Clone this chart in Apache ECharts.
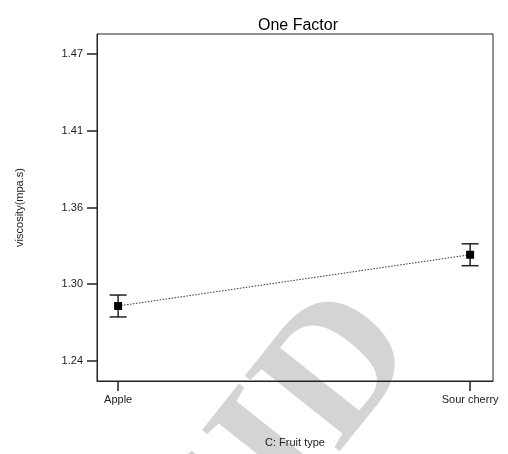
<!DOCTYPE html>
<html>
<head>
<meta charset="utf-8">
<script src="https://cdn.jsdelivr.net/npm/echarts@6/dist/echarts.min.js"></script>
<style>html,body{margin:0;padding:0;background:#fff}#c{width:508px;height:454px}</style>
</head>
<body>
<div id="c"></div>
<script>
var categories = ['Apple', 'Sour cherry'];
var means = [1.2812, 1.3196];
var lower = [1.2730, 1.3114];
var upper = [1.2894, 1.3278];
var yTicks = [1.24, 1.2975, 1.355, 1.4125, 1.47];

var chart = echarts.init(document.getElementById('c'));
var font = 'Liberation Sans, Arial, sans-serif';
var lineData = means.map(function (v, i) { return [i, v]; });
var errData = means.map(function (v, i) { return [i, lower[i], upper[i]]; });

chart.setOption({
  animation: false,
  backgroundColor: '#fff',
  title: {
    text: 'One Factor', left: 293, top: 13, textAlign: 'center',
    textStyle: { fontFamily: font, fontSize: 16, fontWeight: 'normal', color: '#000' }
  },
  graphic: [{
    type: 'text', z: -10, left: 100, top: 262, rotation: 0.9,
    style: { text: 'CID', font: 'bold 185px "Liberation Serif", serif', fill: '#d4d4d6' }
  }],
  grid: { left: 97, right: 15, top: 34, bottom: 73, show: true, borderColor: '#222', borderWidth: 1, backgroundColor: 'transparent' },
  xAxis: {
    type: 'value', min: -0.06, max: 1.065,
    name: 'C: Fruit type', nameLocation: 'middle', nameGap: 56,
    nameTextStyle: { fontFamily: font, fontSize: 11, color: '#222' },
    axisLine: { show: true, onZero: false, lineStyle: { color: '#222', width: 1 } },
    axisTick: { show: true, length: 10, customValues: [0, 1], lineStyle: { color: '#222', width: 1.5 } },
    axisLabel: { customValues: [0, 1], margin: 13, fontFamily: font, fontSize: 11, color: '#222',
      formatter: function (v) { return categories[Math.round(v)]; } },
    splitLine: { show: false }
  },
  yAxis: {
    type: 'value', min: 1.225, max: 1.485,
    name: 'viscosity(mpa.s)', nameLocation: 'middle', nameGap: 72,
    nameTextStyle: { fontFamily: font, fontSize: 11, color: '#222' },
    axisLine: { show: true, onZero: false, lineStyle: { color: '#222', width: 1 } },
    axisTick: { show: true, length: 10, customValues: yTicks, lineStyle: { color: '#222', width: 1.5 } },
    axisLabel: { customValues: yTicks, margin: 14, fontFamily: font, fontSize: 11, color: '#222',
      formatter: function (v) { return (v + 1e-9).toFixed(2); } },
    splitLine: { show: false }
  },
  series: [{
    type: 'line', data: lineData, symbol: 'rect', symbolSize: 8,
    itemStyle: { color: '#000' },
    lineStyle: { color: '#333', width: 1, type: [1.5, 1.5] }, z: 3
  }, {
    type: 'custom', data: errData, z: 2,
    renderItem: function (params, api) {
      var x = api.value(0);
      var lo = api.coord([x, api.value(1)]);
      var hi = api.coord([x, api.value(2)]);
      var hw = 8.5;
      var st = { stroke: '#222', lineWidth: 1.5 };
      return { type: 'group', children: [
        { type: 'line', shape: { x1: lo[0], y1: lo[1], x2: hi[0], y2: hi[1] }, style: st },
        { type: 'line', shape: { x1: lo[0] - hw, y1: lo[1], x2: lo[0] + hw, y2: lo[1] }, style: st },
        { type: 'line', shape: { x1: hi[0] - hw, y1: hi[1], x2: hi[0] + hw, y2: hi[1] }, style: st }
      ] };
    }
  }]
});
</script>
</body>
</html>
